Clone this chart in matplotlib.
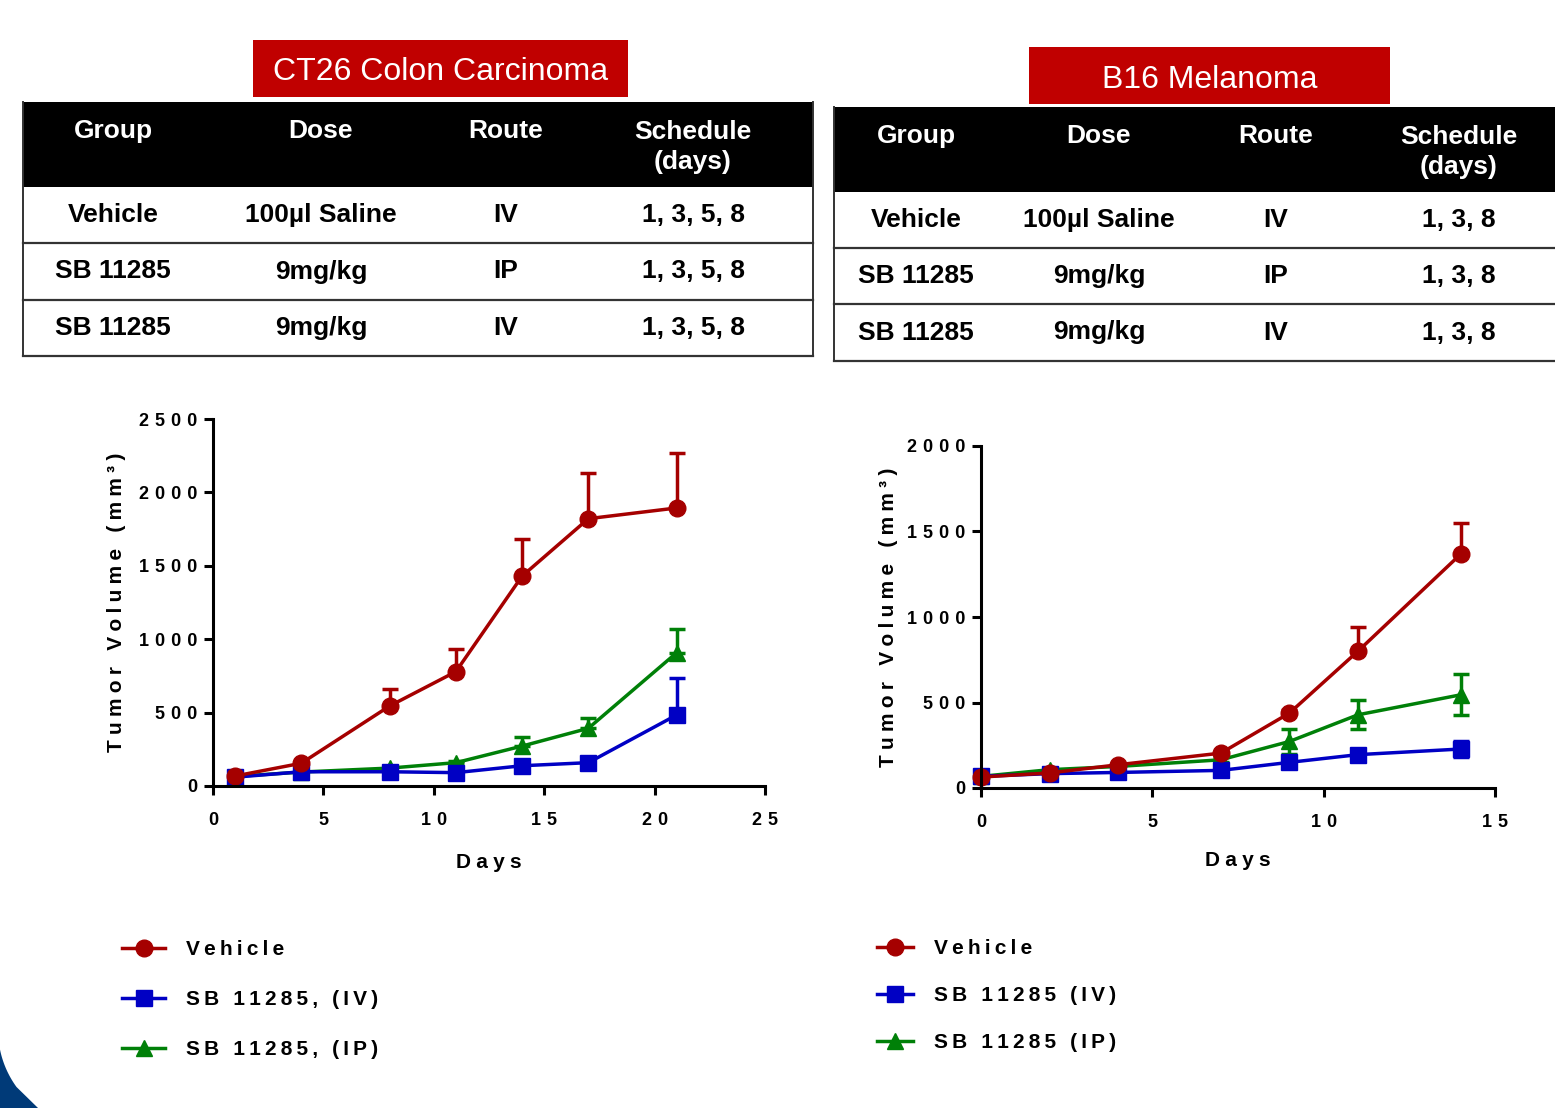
import numpy as np
import matplotlib.pyplot as plt
from matplotlib.patches import Rectangle, Polygon

plt.rcParams['font.family'] = ['Liberation Sans', 'DejaVu Sans']

W, H = 1555, 1108

# ---- table contents ----
table_cols = ['Group', 'Dose', 'Route', 'Schedule\n(days)']
ct26_title = 'CT26 Colon Carcinoma'
ct26_rows = [['Vehicle', '100µl Saline', 'IV', '1, 3, 5, 8'],
             ['SB 11285', '9mg/kg', 'IP', '1, 3, 5, 8'],
             ['SB 11285', '9mg/kg', 'IV', '1, 3, 5, 8']]
b16_title = 'B16 Melanoma'
b16_rows = [['Vehicle', '100µl Saline', 'IV', '1, 3, 8'],
            ['SB 11285', '9mg/kg', 'IP', '1, 3, 8'],
            ['SB 11285', '9mg/kg', 'IV', '1, 3, 8']]

# ---- CT26 tumor growth (mean, upper SEM) ----
ct26_days = [1, 4, 8, 11, 14, 17, 21]
ct26_vehicle = [68, 155, 545, 779, 1430, 1821, 1894]
ct26_vehicle_err = [10, 12, 117, 152, 250, 313, 372]
ct26_iv = [60, 97, 97, 91, 138, 159, 484]
ct26_iv_err = [8, 10, 12, 12, 20, 22, 250]
ct26_ip = [65, 95, 122, 159, 272, 393, 908]
ct26_ip_err = [5, 10, 10, 12, 60, 68, 159]

# ---- B16 tumor growth ----
b16_days = [0, 2, 4, 7, 9, 11, 14]
b16_vehicle = [64, 88, 136, 204, 438, 800, 1368]
b16_vehicle_err = [5, 10, 10, 15, 20, 144, 183]
b16_iv = [68, 84, 91, 103, 150, 195, 228]
b16_iv_err = [5, 5, 8, 8, 10, 15, 45]
b16_ip = [68, 107, 126, 165, 272, 428, 545]
b16_ip_err = [5, 10, 10, 15, 72, 85, 120]

RED = '#A50000'
BLUE = '#0000C4'
GREEN = '#008008'
TITLE_RED = '#C00000'


def spaced(s, sep='\u2009'):
    # GraphPad-style letter spacing
    return sep.join(s)


fig = plt.figure(figsize=(W / 100, H / 100), dpi=100)
bg = fig.add_axes([0, 0, 1, 1])
bg.set_xlim(0, W)
bg.set_ylim(H, 0)
bg.axis('off')

# blue slide decoration, bottom-left corner
th = np.linspace(np.pi - np.arcsin(18 / 97), np.pi / 2 + np.arccos(57 / 97), 40)
arc = np.column_stack([95 + 97 * np.cos(th), 1030 + 97 * np.sin(th)])
bg.add_patch(Polygon(np.vstack([arc, [[38, H], [0, H]]]), closed=True,
                     color='#003A78', lw=0))


def draw_table(x0, x1, y_head, y_rows, centers, title, tbox, rows):
    bx, by, bw, bh = tbox
    bg.add_patch(Rectangle((bx, by), bw, bh, color=TITLE_RED, lw=0))
    bg.text(bx + bw / 2, by + bh / 2 + 4, title, color='white', fontsize=23,
            ha='center', va='center')
    bg.add_patch(Rectangle((x0, y_head), x1 - x0, y_rows[0] - y_head,
                           color='black', lw=0))
    for c, lab in zip(centers, table_cols):
        yy = y_head + 29 if '\n' not in lab else y_head + 45
        bg.text(c, yy, lab, color='white', fontsize=19, fontweight='bold',
                ha='center', va='center', linespacing=1.3)
    for i, row in enumerate(rows):
        yc = (y_rows[i] + y_rows[i + 1]) / 2
        for c, val in zip(centers, row):
            bg.text(c, yc, val, color='black', fontsize=19, fontweight='bold',
                    ha='center', va='center')
        bg.plot([x0, x1], [y_rows[i + 1], y_rows[i + 1]], color='#333333', lw=1.6)
    bg.plot([x0, x0], [y_head, y_rows[-1]], color='#333333', lw=1.4)
    bg.plot([x1, x1], [y_head, y_rows[-1]], color='#333333', lw=1.4)


draw_table(23, 813, 102, [187, 243, 300, 356], [113, 321, 506, 693],
           ct26_title, (253, 40, 375, 57), ct26_rows)
draw_table(834, 1562, 107, [192, 248, 304, 361], [916, 1099, 1276, 1459],
           b16_title, (1029, 47, 361, 57), b16_rows)


def style_axis(ax, xmax, xstep, ymax, ystep):
    ax.set_xlim(0, xmax)
    ax.set_ylim(0, ymax)
    for s in ['top', 'right']:
        ax.spines[s].set_visible(False)
    for s in ['left', 'bottom']:
        ax.spines[s].set_linewidth(2.2)
    ax.tick_params(direction='out', length=6.5, width=2.2)
    ax.tick_params(axis='y', pad=5)
    ax.tick_params(axis='x', pad=12.5)
    xt = np.arange(0, xmax + 1, xstep)
    yt = np.arange(0, ymax + 1, ystep)
    ax.set_xticks(xt)
    ax.set_yticks(yt)
    ax.set_xticklabels([spaced(str(v), '\u2004') for v in xt], fontsize=13,
                       fontweight='bold')
    ax.set_yticklabels([spaced(str(v), '\u2004') for v in yt], fontsize=13,
                       fontweight='bold')
    ax.set_xlabel(spaced('Days', '\u2005'), fontsize=15, fontweight='bold',
                  va='center')
    ax.set_ylabel(spaced('Tumor Volume (mm³)', '\u2005'), fontsize=15,
                  fontweight='bold', va='center')


def series(ax, x, y, err, color, marker, ms, both):
    lower = err if both else [0] * len(err)
    c = ax.errorbar(x, y, yerr=[lower, err], color=color, marker=marker, ms=ms,
                    lw=2.5, elinewidth=2.5, capsize=5.5, capthick=2.5, clip_on=False)
    for a in c.lines[1] + c.lines[2]:
        a.set_clip_on(False)
    return c.lines[0]


# ---- left chart ----
ax1 = fig.add_axes([213 / W, 1 - 786 / H, (765 - 213) / W, (786 - 419) / H])
style_axis(ax1, 25, 5, 2500, 500)
h_ip1 = series(ax1, ct26_days, ct26_ip, ct26_ip_err, GREEN, '^', 12, False)
h_iv1 = series(ax1, ct26_days, ct26_iv, ct26_iv_err, BLUE, 's', 11, False)
h_v1 = series(ax1, ct26_days, ct26_vehicle, ct26_vehicle_err, RED, 'o', 12, False)
ax1.yaxis.set_label_coords((117 - 213) / 552, (786 - 602) / 367)
ax1.xaxis.set_label_coords(0.5, (786 - 862) / 367)

# ---- right chart ----
ax2 = fig.add_axes([981 / W, 1 - 788 / H, (1495 - 981) / W, (788 - 446) / H])
style_axis(ax2, 15, 5, 2000, 500)
h_ip2 = series(ax2, b16_days, b16_ip, b16_ip_err, GREEN, '^', 12, True)
h_iv2 = series(ax2, b16_days, b16_iv, b16_iv_err, BLUE, 's', 11, True)
h_v2 = series(ax2, b16_days, b16_vehicle, b16_vehicle_err, RED, 'o', 12, False)
ax2.yaxis.set_label_coords((889 - 981) / 514, (788 - 617) / 342)
ax2.xaxis.set_label_coords(0.5, (788 - 861) / 342)

# ---- legends ----
lkw = dict(loc='upper left', frameon=False, numpoints=1, borderpad=0,
           borderaxespad=0, prop={'size': 15, 'weight': 'bold'})
fig.legend([h_v1, h_iv1, h_ip1],
           [spaced('Vehicle'), spaced('SB 11285, (IV)'), spaced('SB 11285, (IP)')],
           bbox_to_anchor=(122 / W, 1 - 940 / H), handlelength=2.07,
           handletextpad=1.0, labelspacing=1.49, **lkw)
fig.legend([h_v2, h_iv2, h_ip2],
           [spaced('Vehicle'), spaced('SB 11285 (IV)'), spaced('SB 11285 (IP)')],
           bbox_to_anchor=(877 / W, 1 - 939 / H), handlelength=1.73,
           handletextpad=1.0, labelspacing=1.34, **lkw)

fig.savefig('out.png', dpi=100)
